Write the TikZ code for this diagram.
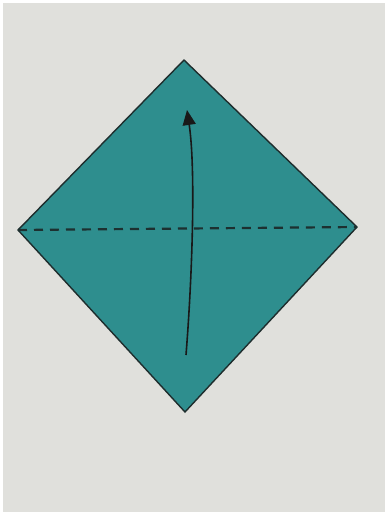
\documentclass[tikz,border=0pt]{standalone}
\usetikzlibrary{arrows.meta}
\definecolor{paper}{RGB}{224,224,220}
\definecolor{teal2}{RGB}{46,142,142}
\definecolor{edge}{RGB}{30,45,45}
\definecolor{ink}{RGB}{25,25,25}
\begin{document}
\begin{tikzpicture}[x=1pt,y=-1pt,
  sheet/.style={fill=teal2,draw=edge,line width=1.4pt,line join=miter},
  foldline/.style={draw=ink!80!teal2,line width=2.2pt,dash pattern=on 9pt off 7pt},
  foldarrow/.style={draw=ink,line width=1.6pt,-{Triangle[length=15pt,width=13pt]}}]
\useasboundingbox (0,0) rectangle (388,515);
\fill[white] (0,0) rectangle (388,515);
\fill[paper] (3,3) rectangle (385,512);
\coordinate (T) at (184,60);
\coordinate (L) at (18,230);
\coordinate (R) at (357,227);
\coordinate (B) at (185,412);
\path[sheet] (T) -- (R) -- (B) -- (L) -- cycle;
\path[foldline] (L) -- (R);
\coordinate (A0) at (186,355);
\coordinate (A1) at (187,110);
\path[foldarrow] (A0) .. controls (192,280) and (196,170) .. (A1);
\end{tikzpicture}
\end{document}
